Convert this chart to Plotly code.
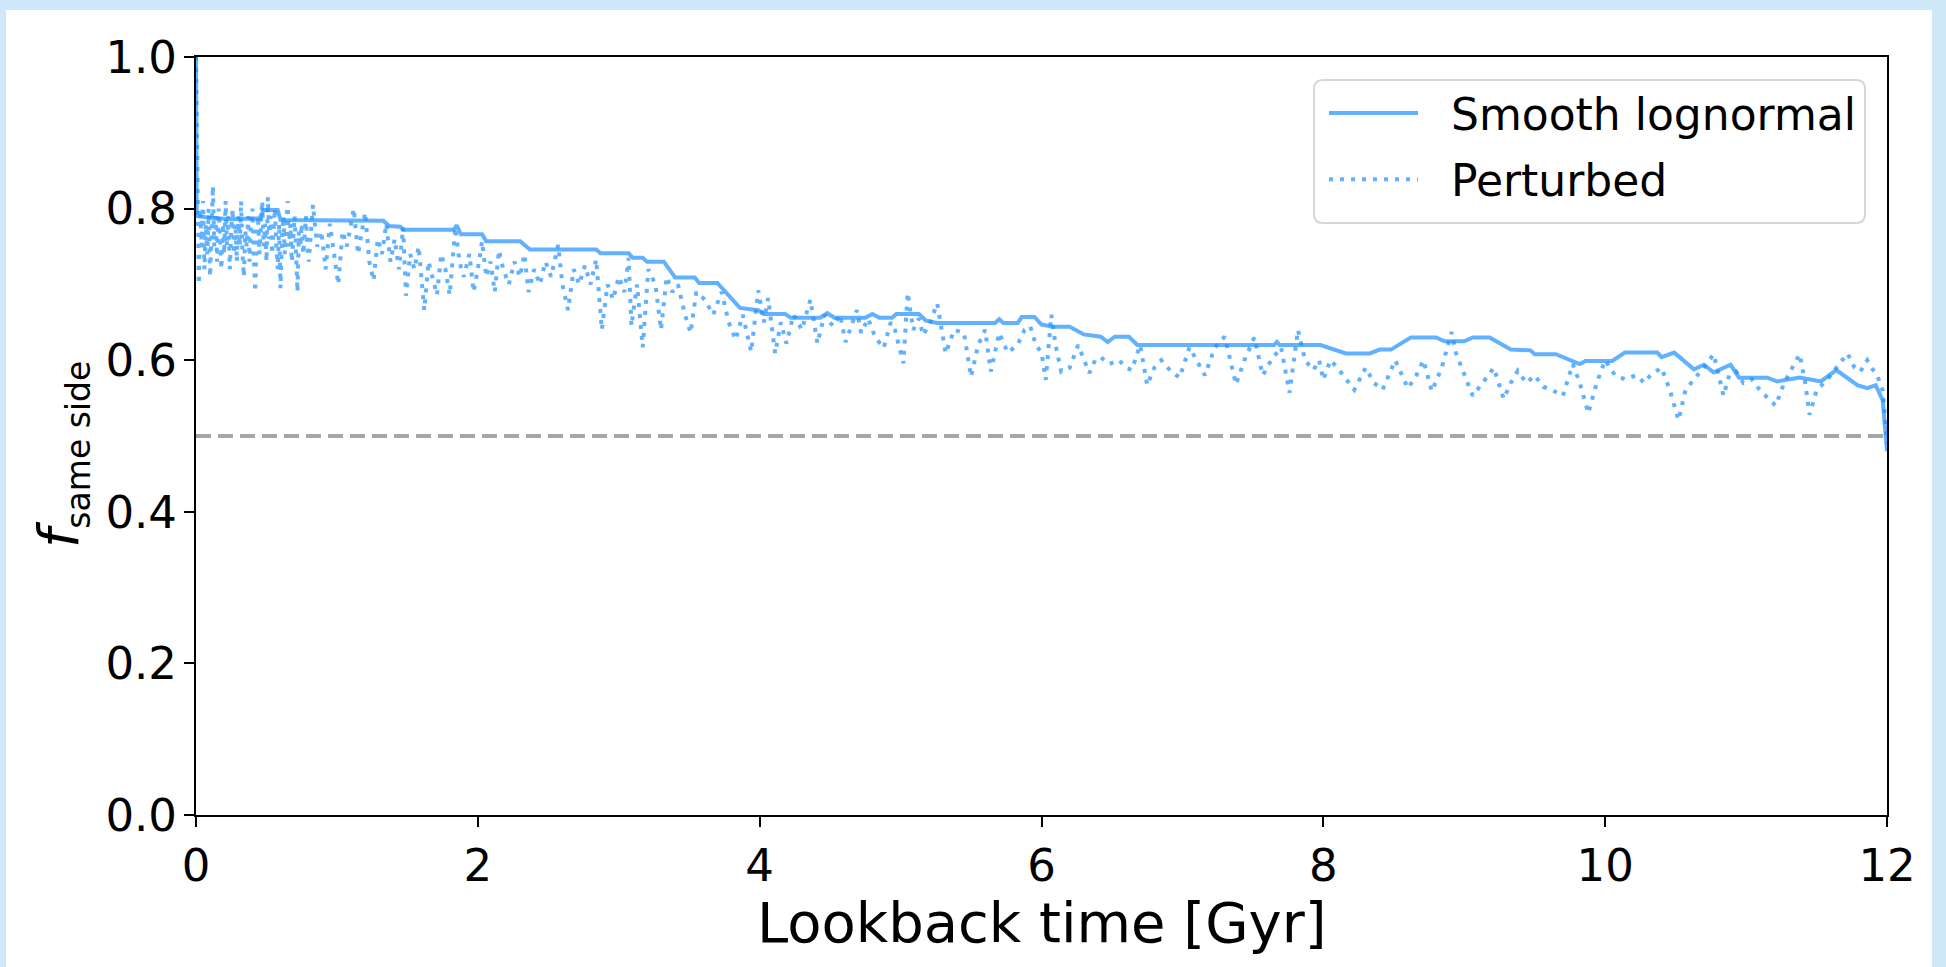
import plotly.graph_objects as go

# ---------------- data ----------------
smooth_t = [0.0, 0.005, 0.10, 0.25, 0.45, 0.48, 0.58, 0.60, 1.33, 1.37, 1.45, 1.47,
            1.83, 1.85, 1.88, 2.03, 2.06, 2.30, 2.37, 2.84, 2.87, 3.07, 3.10, 3.17,
            3.20, 3.32, 3.40, 3.54, 3.57, 3.70, 3.86, 3.99, 4.03, 4.18, 4.22, 4.43,
            4.48, 4.53, 4.75, 4.80, 4.85, 4.94, 4.97, 5.13, 5.18, 5.26, 5.67, 5.70,
            5.73, 5.83, 5.86, 5.95, 6.00, 6.08, 6.20, 6.30, 6.42, 6.47, 6.52, 6.62,
            6.68, 7.65, 7.67, 7.69, 7.98, 8.16, 8.33, 8.40, 8.48, 8.62, 8.80, 8.86,
            9.00, 9.06, 9.18, 9.33, 9.47, 9.50, 9.65, 9.82, 9.86, 10.05, 10.14, 10.37,
            10.40, 10.49, 10.63, 10.70, 10.77, 10.89, 10.95, 11.15, 11.22, 11.38, 11.53,
            11.64, 11.79, 11.86, 11.92, 11.97, 12.0]
smooth_f = [1.00, 0.790, 0.788, 0.786, 0.787, 0.798, 0.798, 0.785, 0.784, 0.777, 0.776, 0.772,
            0.772, 0.778, 0.766, 0.766, 0.757, 0.757, 0.746, 0.746, 0.741, 0.741, 0.735, 0.735,
            0.730, 0.730, 0.709, 0.709, 0.702, 0.702, 0.669, 0.666, 0.661, 0.661, 0.656, 0.656,
            0.662, 0.656, 0.656, 0.661, 0.656, 0.656, 0.661, 0.661, 0.652, 0.649, 0.649, 0.654,
            0.649, 0.649, 0.657, 0.657, 0.647, 0.644, 0.644, 0.634, 0.631, 0.624, 0.631, 0.631,
            0.620, 0.620, 0.624, 0.620, 0.620, 0.609, 0.609, 0.614, 0.614, 0.630, 0.630, 0.625,
            0.625, 0.630, 0.630, 0.614, 0.613, 0.608, 0.608, 0.595, 0.599, 0.599, 0.610, 0.610,
            0.604, 0.610, 0.588, 0.594, 0.584, 0.594, 0.577, 0.577, 0.572, 0.577, 0.572,
            0.587, 0.567, 0.563, 0.567, 0.547, 0.480]

pert_t = [0.00, 0.01, 0.02, 0.03, 0.04, 0.05, 0.06, 0.07, 0.08, 0.09, 0.10, 0.11, 0.12,
          0.13, 0.14, 0.15, 0.16, 0.17, 0.18, 0.19, 0.20, 0.21, 0.22, 0.23, 0.24, 0.25,
          0.26, 0.27, 0.28, 0.29, 0.30, 0.31, 0.32, 0.33, 0.34, 0.35, 0.36, 0.37, 0.38,
          0.39, 0.40, 0.41, 0.42, 0.43, 0.44, 0.45, 0.46, 0.47, 0.48, 0.49, 0.50, 0.51,
          0.52, 0.53, 0.54, 0.55, 0.56, 0.57, 0.58, 0.59, 0.60, 0.61, 0.62, 0.63, 0.64,
          0.65, 0.66, 0.67, 0.68, 0.69, 0.70, 0.71, 0.72, 0.73, 0.74, 0.75, 0.76, 0.77,
          0.78, 0.79, 0.80,
          0.83, 0.86, 0.89, 0.92, 0.95, 0.98, 1.01, 1.04, 1.07, 1.10,
          1.12, 1.15, 1.18, 1.20, 1.23, 1.26, 1.29, 1.32, 1.35, 1.38, 1.41, 1.44, 1.47,
          1.49, 1.52, 1.55, 1.58, 1.62, 1.65, 1.68, 1.71, 1.74, 1.77, 1.80, 1.84, 1.87,
          1.90, 1.94, 1.97, 2.00, 2.03, 2.06, 2.09, 2.12, 2.15, 2.18, 2.22, 2.26, 2.30,
          2.33, 2.36, 2.40, 2.44, 2.48, 2.52, 2.57, 2.60, 2.64, 2.68, 2.72, 2.76, 2.80,
          2.84, 2.88, 2.92, 2.96, 3.00, 3.04, 3.07, 3.09, 3.13, 3.17, 3.21, 3.26, 3.30,
          3.34, 3.38, 3.42, 3.47, 3.51, 3.55, 3.61, 3.67, 3.73, 3.78, 3.83, 3.88, 3.94,
          3.99, 4.03, 4.06, 4.11, 4.15, 4.19, 4.24, 4.30, 4.36, 4.41, 4.46, 4.52, 4.57,
          4.61, 4.66, 4.69, 4.72, 4.77, 4.82, 4.88, 4.93, 4.96, 5.02, 5.05, 5.09, 5.13,
          5.16, 5.21, 5.26, 5.32, 5.38, 5.45, 5.50, 5.55, 5.60, 5.64, 5.70, 5.76, 5.83,
          5.88, 5.92, 5.96, 6.00, 6.03, 6.07, 6.10, 6.14, 6.20, 6.26, 6.30, 6.34, 6.38,
          6.42, 6.48, 6.55, 6.60, 6.64, 6.70, 6.75, 6.80, 6.85, 6.92, 6.98, 7.05, 7.10,
          7.16, 7.23, 7.30, 7.34, 7.38, 7.44, 7.51, 7.57, 7.63, 7.70, 7.76, 7.82, 7.87,
          7.93, 7.97, 8.00, 8.05, 8.10, 8.16, 8.22, 8.30, 8.36, 8.42, 8.51, 8.60, 8.66,
          8.71, 8.77, 8.84, 8.91, 8.94, 9.00, 9.06, 9.13, 9.21, 9.28, 9.33, 9.38, 9.44,
          9.50, 9.56, 9.63, 9.70, 9.77, 9.82, 9.88, 9.94, 10.00, 10.07, 10.14, 10.22,
          10.28, 10.32, 10.40, 10.46, 10.52, 10.57, 10.63, 10.70, 10.77, 10.84, 10.88,
          10.93, 10.98, 11.04, 11.10, 11.16, 11.21, 11.27, 11.33, 11.38, 11.42, 11.45,
          11.50, 11.58, 11.64, 11.72, 11.77, 11.81, 11.86, 11.89, 11.93, 11.97, 12.00]
pert_f = [1.00, 0.79, 0.70, 0.80, 0.75, 0.81, 0.72, 0.78, 0.74, 0.80, 0.71, 0.77, 0.83,
          0.75, 0.79, 0.73, 0.80, 0.76, 0.72, 0.78, 0.74, 0.81, 0.75, 0.79, 0.72, 0.77,
          0.80, 0.74, 0.78, 0.73, 0.79, 0.75, 0.81, 0.74, 0.71, 0.77, 0.75, 0.79, 0.73,
          0.78, 0.80, 0.74, 0.69, 0.76, 0.79, 0.74, 0.77, 0.81, 0.75, 0.78, 0.73, 0.815,
          0.76, 0.79, 0.74, 0.77, 0.80, 0.75, 0.72, 0.78, 0.695, 0.76, 0.79, 0.74, 0.77,
          0.81, 0.75, 0.78, 0.73, 0.76, 0.79, 0.74, 0.69, 0.77, 0.75, 0.78, 0.74, 0.76,
          0.79, 0.75, 0.73,
          0.805, 0.75, 0.77, 0.72, 0.78, 0.74, 0.70, 0.77, 0.75, 0.78,
          0.80, 0.74, 0.77, 0.795, 0.73, 0.705, 0.76, 0.74, 0.78, 0.73, 0.76, 0.72, 0.775,
          0.685, 0.74, 0.72, 0.75, 0.666, 0.73, 0.71, 0.686, 0.74, 0.72, 0.686, 0.775, 0.73,
          0.71, 0.74, 0.69, 0.72, 0.757, 0.71, 0.73, 0.69, 0.745, 0.72, 0.70, 0.73, 0.71,
          0.74, 0.69, 0.72, 0.70, 0.73, 0.71, 0.752, 0.70, 0.666, 0.72, 0.70, 0.725, 0.70,
          0.733, 0.64, 0.70, 0.68, 0.71, 0.69, 0.735, 0.645, 0.70, 0.617, 0.72, 0.70, 0.64,
          0.71, 0.69, 0.70, 0.66, 0.636, 0.69, 0.68, 0.66, 0.69, 0.65, 0.627, 0.66, 0.611,
          0.692, 0.65, 0.682, 0.609, 0.65, 0.622, 0.66, 0.64, 0.68, 0.622, 0.66, 0.645, 0.66,
          0.624, 0.65, 0.666, 0.636, 0.655, 0.63, 0.616, 0.65, 0.64, 0.596, 0.689, 0.64, 0.655,
          0.633, 0.65, 0.675, 0.609, 0.64, 0.636, 0.578, 0.62, 0.64, 0.585, 0.636, 0.61, 0.62,
          0.64, 0.645, 0.62, 0.61, 0.574, 0.66, 0.62, 0.585, 0.59, 0.62, 0.60, 0.583, 0.60,
          0.604, 0.595, 0.60, 0.59, 0.587, 0.62, 0.567, 0.59, 0.60, 0.585, 0.577, 0.617, 0.60,
          0.58, 0.617, 0.631, 0.60, 0.568, 0.60, 0.63, 0.58, 0.60, 0.617, 0.557, 0.64, 0.60,
          0.587, 0.60, 0.574, 0.60, 0.59, 0.575, 0.561, 0.59, 0.57, 0.561, 0.60, 0.563, 0.58,
          0.60, 0.559, 0.59, 0.637, 0.61, 0.58, 0.553, 0.57, 0.59, 0.549, 0.57, 0.586, 0.57,
          0.58, 0.565, 0.56, 0.553, 0.595, 0.57, 0.53, 0.57, 0.60, 0.58, 0.575, 0.58,
          0.57, 0.58, 0.59, 0.56, 0.521, 0.56, 0.575, 0.59, 0.608, 0.553, 0.58,
          0.585, 0.57, 0.575, 0.56, 0.55, 0.54, 0.57, 0.59, 0.608, 0.57, 0.528,
          0.56, 0.575, 0.59, 0.609, 0.59, 0.585, 0.60, 0.59, 0.58, 0.56, 0.49]

reference_level = 0.5
x_range = [0, 12]
y_range = [0, 1]
x_ticks = [0, 2, 4, 6, 8, 10, 12]
y_ticks = [0.0, 0.2, 0.4, 0.6, 0.8, 1.0]
x_title = "Lookback time [Gyr]"
y_title = "<i>f</i><sub><span style='font-size:33px'>same side</span></sub>"

# ---------------- styling ----------------
W, H = 1946, 967
ML, MR, MT, MB = 196, 59, 57, 152
PW, PH = W - ML - MR, H - MT - MB
FONT = "DejaVu Sans"
BLUE = "rgba(30,144,255,0.7)"

def px_x(p):  # page pixel -> paper fraction
    return (p - ML) / PW

def px_y(p):
    return (H - MB - p) / PH

fig = go.Figure()
fig.add_trace(go.Scatter(x=x_range, y=[reference_level, reference_level], mode="lines",
                         line=dict(color="rgba(128,128,128,0.7)", width=4, dash="15px,7px"),
                         showlegend=False, hoverinfo="skip"))
fig.add_trace(go.Scatter(x=smooth_t, y=smooth_f, mode="lines",
                         name="\u00a0\u00a0Smooth lognormal", legendgroup="smooth",
                         line=dict(color=BLUE, width=4)))
fig.add_trace(go.Scatter(x=pert_t, y=pert_f, mode="lines",
                         name="\u00a0\u00a0Perturbed", legendgroup="pert",
                         line=dict(color=BLUE, width=4, dash="4px,7px")))

# white panel on light-blue page
shapes = [dict(type="rect", xref="paper", yref="paper", layer="below",
               x0=px_x(6), x1=px_x(1932), y0=px_y(967), y1=px_y(10),
               fillcolor="white", line=dict(width=0))]
# rounded legend frame
lx0, lx1, ly0, ly1 = 1314, 1865, 80, 223
r = 9
def P(x, y):
    return f"{px_x(x):.5f},{px_y(y):.5f}"
path = (f"M{P(lx0 + r, ly0)} L{P(lx1 - r, ly0)} Q{P(lx1, ly0)} {P(lx1, ly0 + r)} "
        f"L{P(lx1, ly1 - r)} Q{P(lx1, ly1)} {P(lx1 - r, ly1)} "
        f"L{P(lx0 + r, ly1)} Q{P(lx0, ly1)} {P(lx0, ly1 - r)} "
        f"L{P(lx0, ly0 + r)} Q{P(lx0, ly0)} {P(lx0 + r, ly0)} Z")
shapes.append(dict(type="path", xref="paper", yref="paper", path=path, layer="above",
                   fillcolor="rgba(255,255,255,0.8)", line=dict(color="#d6d6d6", width=2)))

axis_common = dict(showline=True, linecolor="black", linewidth=2, mirror=True,
                   ticks="outside", ticklen=10, tickwidth=2, tickcolor="black",
                   showgrid=False, zeroline=False,
                   tickfont=dict(family=FONT, size=45, color="black"))

fig.update_layout(
    width=W, height=H,
    margin=dict(l=ML, r=MR, t=MT, b=MB, autoexpand=False),
    paper_bgcolor="#cfe8f9", plot_bgcolor="white",
    font=dict(family=FONT, color="black"),
    shapes=shapes,
    showlegend=True,
    legend=dict(x=px_x(1324), y=px_y(78), xanchor="left", yanchor="top",
                bgcolor="rgba(0,0,0,0)", borderwidth=0,
                font=dict(family=FONT, size=44, color="black"),
                itemwidth=89, tracegroupgap=6),
    xaxis=dict(range=x_range, tickvals=x_ticks, **axis_common),
    yaxis=dict(range=y_range, tickvals=y_ticks, tickformat=".1f", ticklabelstandoff=-2,
               **axis_common),
    annotations=[
        dict(text=x_title, xref="paper", yref="paper", x=0.5, y=px_y(922),
             xanchor="center", yanchor="middle", showarrow=False,
             font=dict(family=FONT, size=56, color="black")),
        dict(text=y_title, textangle=-90,
             xref="paper", yref="paper", x=px_x(62), y=px_y(455),
             xanchor="center", yanchor="middle", showarrow=False,
             font=dict(family=FONT, size=55, color="black")),
    ],
)

fig.write_html("out.html")
